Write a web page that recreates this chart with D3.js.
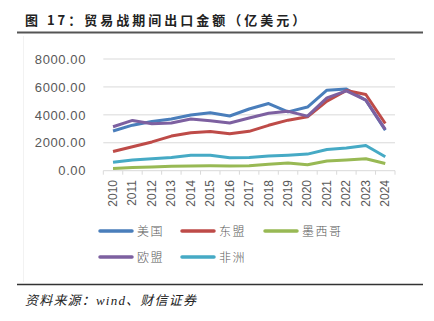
<!DOCTYPE html>
<html>
<head>
<meta charset="utf-8">
<script src="https://cdn.jsdelivr.net/npm/d3@7"></script>
<style>
  body { margin: 0; background: #fff; }
  svg { display: block; }
</style>
</head>
<body>
<div id="chart"></div>
<script>
const years = ["2010","2011","2012","2013","2014","2015","2016","2017","2018","2019","2020","2021","2022","2023","2024"];
const usa    = [2840, 3260, 3530, 3700, 3990, 4150, 3920, 4420, 4810, 4210, 4560, 5770, 5850, 5050, 2900];
const asean  = [1370, 1710, 2060, 2480, 2720, 2810, 2640, 2820, 3250, 3620, 3860, 4980, 5740, 5460, 3380];
const mexico = [160, 230, 260, 320, 340, 350, 340, 360, 460, 550, 420, 690, 770, 850, 520];
const eu     = [3150, 3600, 3370, 3420, 3700, 3570, 3420, 3770, 4120, 4250, 3910, 5220, 5720, 5050, 2960];
const africa = [600, 760, 860, 950, 1100, 1110, 930, 940, 1060, 1110, 1190, 1520, 1630, 1800, 1000];
const yTicks = [0, 2000, 4000, 6000, 8000];

const series = [
  {name: "美国", values: usa, color: "#4a7ebb"},
  {name: "东盟", values: asean, color: "#be4b48"},
  {name: "墨西哥", values: mexico, color: "#98b954"},
  {name: "欧盟", values: eu, color: "#7d60a0"},
  {name: "非洲", values: africa, color: "#46aac5"}
];

const width = 434, height = 321;
const plot = {left: 103.3, right: 395, top: 59, bottom: 170.7};

const svg = d3.select("#chart").append("svg")
  .attr("width", width).attr("height", height);

// title + rules
svg.append("text")
  .attr("x", 25).attr("y", 25)
  .attr("font-family", "'Noto Sans CJK SC', sans-serif")
  .attr("font-weight", "bold").attr("font-size", 13)
  .attr("letter-spacing", 3).attr("fill", "#222")
  .text("图 17：贸易战期间出口金额（亿美元）");
svg.append("line").attr("x1", 17).attr("x2", 423).attr("y1", 32.5).attr("y2", 32.5)
  .attr("stroke", "#555").attr("stroke-width", 2);
svg.append("line").attr("x1", 17).attr("x2", 423).attr("y1", 284.5).attr("y2", 284.5)
  .attr("stroke", "#333").attr("stroke-width", 1.5);
// faint chart-area edge
svg.append("line").attr("x1", 23.5).attr("x2", 23.5).attr("y1", 36).attr("y2", 282)
  .attr("stroke", "#f2f2f2");

const x = d3.scaleBand().domain(years).range([plot.left, plot.right]);
const y = d3.scaleLinear().domain([0, 8000]).range([plot.bottom, plot.top]);

// grid + y labels
const g = svg.append("g");
g.selectAll(".grid").data(yTicks.filter(d => d > 0)).join("line")
  .attr("x1", plot.left).attr("x2", plot.right)
  .attr("y1", d => y(d)).attr("y2", d => y(d))
  .attr("stroke", "#d9d9d9").attr("stroke-width", 1);
g.selectAll(".ylab").data(yTicks).join("text")
  .attr("x", 86).attr("y", d => y(d)).attr("dy", "0.36em")
  .attr("text-anchor", "end")
  .attr("font-family", "'Liberation Sans', Arial, sans-serif").attr("font-size", 13)
  .attr("letter-spacing", 0.6)
  .attr("fill", "#595959")
  .text(d => d3.format(".2f")(d));

// x axis line + boundary ticks
g.append("line").attr("x1", plot.left).attr("x2", plot.right)
  .attr("y1", y(0)).attr("y2", y(0)).attr("stroke", "#d9d9d9");
const bounds = years.map(d => x(d)).concat([plot.right]);
g.selectAll(".xtick").data(bounds).join("line")
  .attr("x1", d => d).attr("x2", d => d)
  .attr("y1", y(0)).attr("y2", y(0) + 4)
  .attr("stroke", "#d9d9d9");
g.selectAll(".xlab").data(years).join("text")
  .attr("transform", d => `translate(${x(d) + x.bandwidth() / 2 + 4},180) rotate(-90)`)
  .attr("text-anchor", "end")
  .attr("font-family", "'Liberation Sans', Arial, sans-serif").attr("font-size", 12)
  .attr("fill", "#595959")
  .text(d => d);

// lines
const line = d3.line()
  .x((d, i) => x(years[i]) + x.bandwidth() / 2)
  .y(d => y(d));
svg.append("g").selectAll("path").data(series).join("path")
  .attr("d", d => line(d.values))
  .attr("fill", "none")
  .attr("stroke", d => d.color)
  .attr("stroke-width", 3)
  .attr("stroke-linejoin", "round");

// legend
const legendPos = [[100, 231], [182, 231], [265, 231], [100, 257], [182, 257]];
const leg = svg.append("g").selectAll("g").data(series).join("g")
  .attr("transform", (d, i) => `translate(${legendPos[i][0]},${legendPos[i][1]})`);
leg.append("line").attr("x1", 0).attr("x2", 32)
  .attr("stroke", d => d.color).attr("stroke-width", 3.5).attr("stroke-linecap", "round");
leg.append("text").attr("x", 37).attr("dy", "0.38em")
  .attr("font-family", "'Noto Sans CJK SC', sans-serif").attr("font-size", 12)
  .attr("font-weight", 300)
  .attr("letter-spacing", 1.5).attr("fill", "#595959")
  .text(d => d.name);

// source
svg.append("text")
  .attr("x", 25).attr("y", 305)
  .attr("font-family", "'Liberation Serif', 'Noto Sans CJK SC', serif")
  .attr("font-style", "italic").attr("font-size", 13)
  .attr("letter-spacing", 1.2).attr("fill", "#222")
  .text("资料来源：wind、财信证券");
</script>
</body>
</html>
